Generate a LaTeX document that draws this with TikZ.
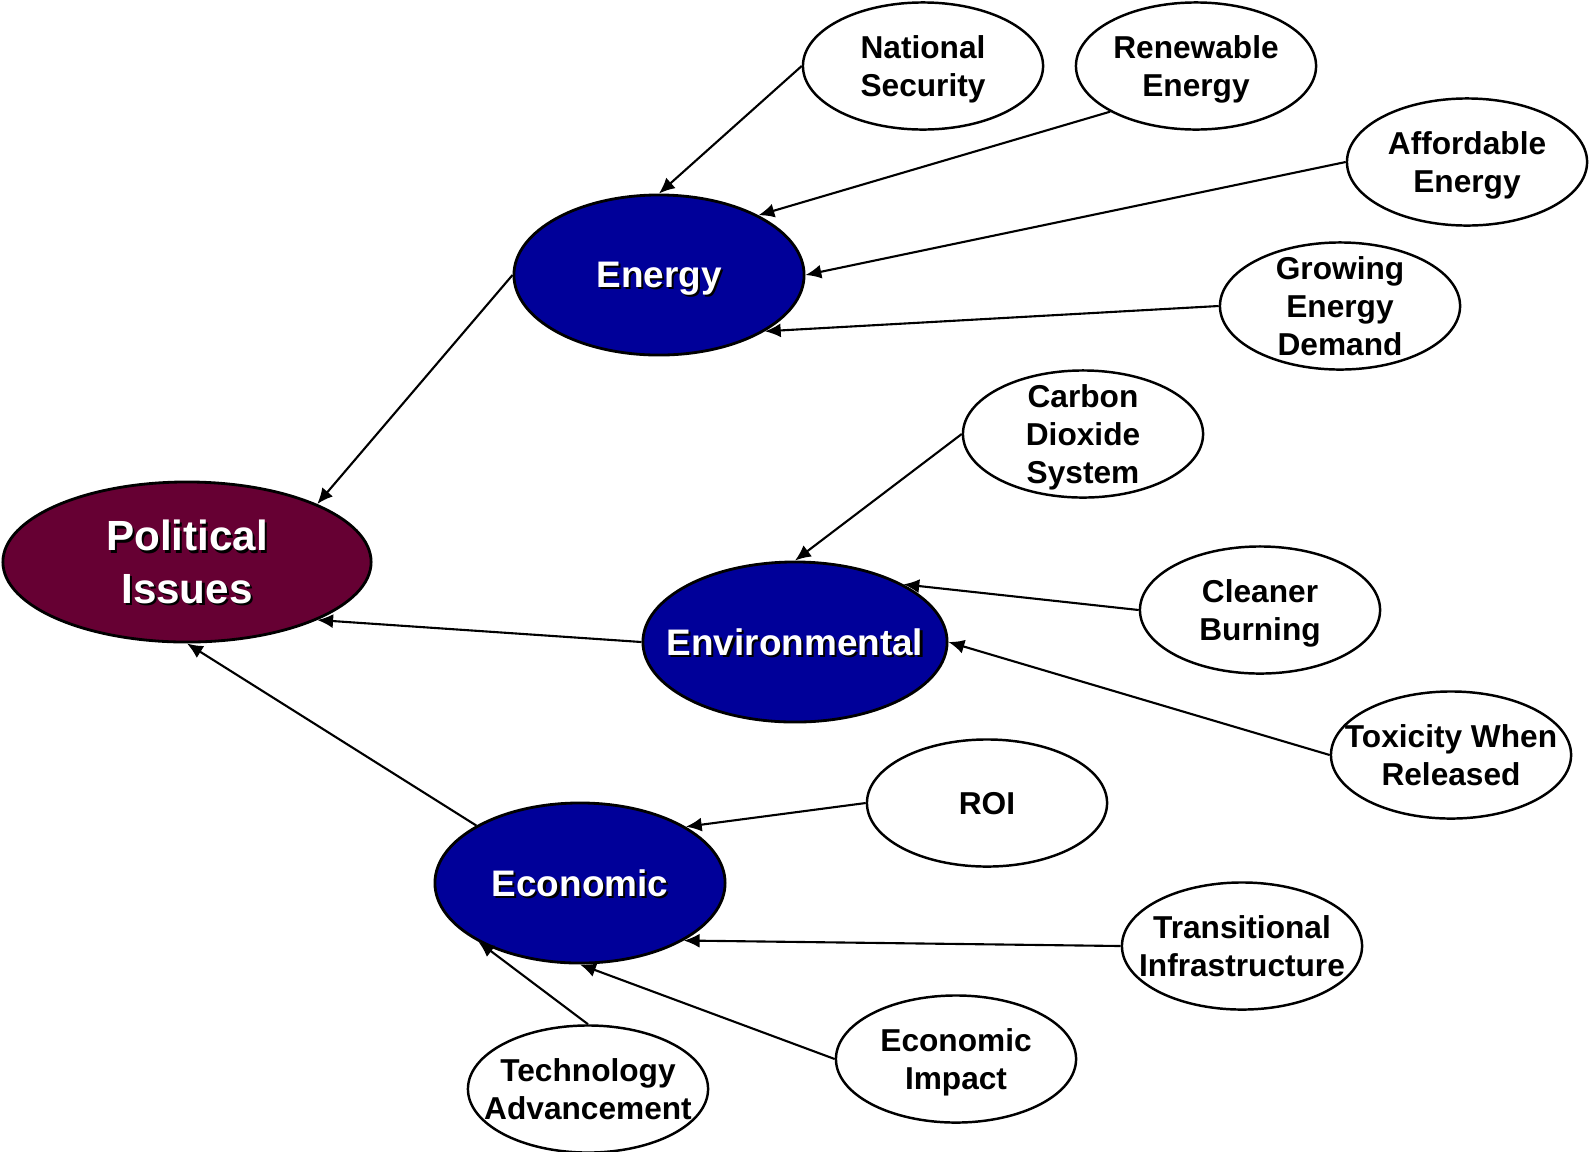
\documentclass[tikz,border=0pt]{standalone}
\usepackage{fontspec}
\setmainfont{Liberation Sans}
\usepackage{tikz}
\usetikzlibrary{shapes.geometric,arrows.meta}
\definecolor{hubblue}{RGB}{0,0,153}
\definecolor{polred}{RGB}{102,0,51}
\newcommand\shadowed[1]{\rlap{\kern0.6pt\raisebox{-0.6pt}{\color{black}#1}}#1}

\begin{document}
\begin{tikzpicture}[x=0.01cm, y=-0.01cm, >={Latex[length=4.5pt,width=4pt]},
    sub/.style={ellipse, draw, line width=0.7pt, fill=white, minimum width=2.4cm, minimum height=1.27cm,
        inner xsep=-8pt, inner ysep=-4pt, text depth=0pt, align=center, font=\fontsize{9}{10.8}\selectfont\bfseries},
    hub/.style={ellipse, draw, line width=0.8pt, fill=hubblue, text=white, minimum width=2.9cm, minimum height=1.6cm,
        inner xsep=-8pt, inner ysep=0pt, text depth=0pt, align=center, font=\fontsize{10.5}{13}\selectfont\bfseries},
    link/.style={->, line width=0.6pt}]
            \useasboundingbox (0,0) rectangle (1589,1151);
            \node[hub, fill=polred, minimum width=3.68cm, font=\fontsize{12}{15}\selectfont\bfseries] (political) at (187,562) {\shadowed{Political}\\\shadowed{Issues}};
            \node[hub] (energy) at (659,275) {\shadowed{Energy}};
            \node[hub, minimum width=3.04cm] (env) at (795,642) {\shadowed{Environmental}};
            \node[hub] (econ) at (580,883) {\shadowed{Economic}};
            \node[sub] (natsec) at (923,66) {National\\Security};
            \node[sub] (renew) at (1196,66) {Renewable\\Energy};
            \node[sub] (afford) at (1467,162) {Affordable\\Energy};
            \node[sub] (growing) at (1340,306) {Growing\\Energy\\Demand};
            \node[sub] (carbon) at (1083,434) {Carbon\\Dioxide\\System};
            \node[sub] (cleaner) at (1260,610) {Cleaner\\Burning};
            \node[sub] (toxic) at (1451,755) {Toxicity When\\Released};
            \node[sub] (roi) at (987,803) {ROI};
            \node[sub] (trans) at (1242,946) {Transitional\\Infrastructure};
            \node[sub] (impact) at (956,1059) {Economic\\Impact};
            \node[sub] (tech) at (588,1089) {Technology\\Advancement};
            \draw[link] (natsec.west) -- (energy.north);
            \draw[link] (renew.208) -- (energy.31);
            \draw[link] (afford.west) -- (energy.east);
            \draw[link] (growing.west) -- (energy.332);
            \draw[link] (carbon.west) -- (env.north);
            \draw[link] (cleaner.west) -- (env.28);
            \draw[link] (toxic.west) -- (env.east);
            \draw[link] (roi.west) -- (econ.28);
            \draw[link] (trans.west) -- (econ.331);
            \draw[link] (impact.west) -- (econ.south);
            \draw[link] (tech.north) -- (econ.210);
            \draw[link] (energy.west) -- (political.24);
            \draw[link] (env.west) -- (political.336);
            \draw[link] (econ.151) -- (political.south);
        \end{tikzpicture}
\end{document}
